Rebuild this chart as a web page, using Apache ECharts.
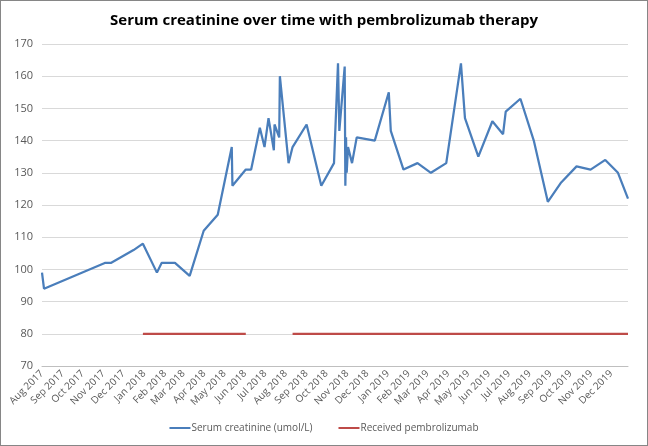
<!DOCTYPE html>
<html>
<head>
<meta charset="utf-8">
<script src="https://cdn.jsdelivr.net/npm/echarts@6/dist/echarts.min.js"></script>
<style>
  html, body { margin: 0; padding: 0; background: #fff; }
  #chart { width: 648px; height: 446px; box-sizing: border-box; border: 1px solid #868686; }
</style>
</head>
<body>
<div id="chart"></div>
<script>
// serum creatinine readings (umol/L)
var creatDates = [
  '2017-08-01', '2017-08-04', '2017-11-03', '2017-11-12', '2017-12-16', '2017-12-30',
  '2018-01-20', '2018-01-27', '2018-02-16', '2018-03-10', '2018-03-31', '2018-04-21',
  '2018-05-12', '2018-05-13', '2018-06-02', '2018-06-10', '2018-06-23', '2018-06-30',
  '2018-07-06', '2018-07-14', '2018-07-15', '2018-07-22', '2018-07-23', '2018-08-05',
  '2018-08-11', '2018-09-01', '2018-09-23', '2018-10-12', '2018-10-18', '2018-10-20',
  '2018-10-28', '2018-10-29', '2018-10-30', '2018-10-31', '2018-11-02', '2018-11-08',
  '2018-11-15', '2018-12-12', '2019-01-02', '2019-01-05', '2019-01-24', '2019-02-14',
  '2019-03-06', '2019-03-29', '2019-04-20', '2019-04-26', '2019-05-16', '2019-06-06',
  '2019-06-22', '2019-06-26', '2019-07-18', '2019-08-07', '2019-08-28', '2019-09-17',
  '2019-10-10', '2019-10-31', '2019-11-22', '2019-12-11', '2019-12-26'
]
var creatValues = [
  99, 94, 102, 102, 106, 108,
  99, 102, 102, 98, 112, 117,
  138, 126, 131, 131, 144, 138,
  147, 137, 145, 141, 160, 133,
  138, 145, 126, 133, 164, 143,
  163, 126, 141, 130, 138, 133,
  141, 140, 155, 143, 131, 133,
  130, 133, 164, 147, 135, 146,
  142, 149, 153, 140, 121, 127,
  132, 131, 134, 130, 122
]
// periods on pembrolizumab (drawn at 80), null = break
var pembroDates = ['2017-12-30', '2018-06-02', '2018-07-01', '2018-08-11', '2019-12-26']
var pembroValues = [80, 80, null, 80, 80]

var monthNames = ['Jan', 'Feb', 'Mar', 'Apr', 'May', 'Jun', 'Jul', 'Aug', 'Sep', 'Oct', 'Nov', 'Dec']

function ts(s) {
  var p = s.split('-')
  return Date.UTC(+p[0], +p[1] - 1, +p[2])
}

// month ticks Aug 2017 .. Dec 2019
var monthTicks = []
for (var y = 2017, m = 7; y < 2019 || (y === 2019 && m <= 11); m++) {
  if (m > 11) { m = 0; y++ }
  if (y === 2019 && m > 11) break
  monthTicks.push(Date.UTC(y, m, 1))
}

var chart = echarts.init(document.getElementById('chart'))

chart.setOption({
  animation: false,
  title: {
    text: 'Serum creatinine over time with pembrolizumab therapy',
    left: 'center',
    top: 7,
    textStyle: { fontFamily: 'Open Sans', fontSize: 15, fontWeight: 'bold', color: '#000' }
  },
  legend: {
    bottom: 7,
    left: 'center',
    itemWidth: 21,
    itemHeight: 2,
    itemGap: 26,
    textStyle: { fontFamily: 'Open Sans', fontSize: 10, color: '#595959', padding: [0, 0, 0, -4] },
    data: [
      { name: 'Serum creatinine (umol/L)', icon: 'rect' },
      { name: 'Received pembrolizumab', icon: 'rect' }
    ]
  },
  grid: {
    left: 41,
    right: 19,
    top: 43,
    bottom: 79
  },
  xAxis: {
    type: 'value',
    min: ts('2017-08-01'),
    max: ts('2019-12-26'),
    axisLine: { onZero: false, lineStyle: { color: '#bfbfbf' } },
    axisTick: { show: false },
    splitLine: { show: false },
    axisLabel: {
      customValues: monthTicks,
      rotate: 45,
      margin: 6,
      fontFamily: 'Open Sans',
      fontSize: 10,
      color: '#595959',
      hideOverlap: false,
      formatter: function (v) {
        var d = new Date(v)
        return monthNames[d.getUTCMonth()] + ' ' + d.getUTCFullYear()
      }
    }
  },
  yAxis: {
    type: 'value',
    min: 70,
    max: 170,
    interval: 10,
    axisLine: { show: false },
    axisTick: { show: false },
    splitLine: { lineStyle: { color: '#d9d9d9' } },
    axisLabel: { fontFamily: 'Open Sans', fontSize: 11, color: '#595959', margin: 9 }
  },
  series: [
    {
      name: 'Serum creatinine (umol/L)',
      type: 'line',
      showSymbol: false,
      lineStyle: { width: 2.25, color: '#4a7ebb' },
      itemStyle: { color: '#4a7ebb' },
      data: creatDates.map(function (d, i) { return [ts(d), creatValues[i]] })
    },
    {
      name: 'Received pembrolizumab',
      type: 'line',
      showSymbol: false,
      connectNulls: false,
      lineStyle: { width: 2.25, color: '#be4b48' },
      itemStyle: { color: '#be4b48' },
      data: pembroDates.map(function (d, i) { return [ts(d), pembroValues[i]] })
    }
  ]
})
</script>
</body>
</html>
